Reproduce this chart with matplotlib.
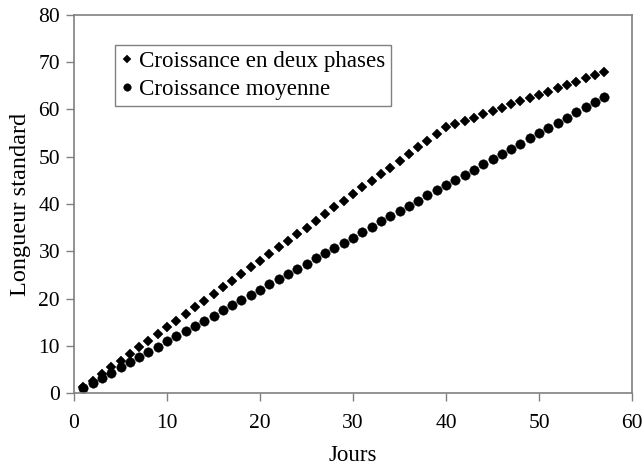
import matplotlib
matplotlib.use("Agg")
import matplotlib.pyplot as plt

plt.rcParams['font.family'] = ['Liberation Serif', 'DejaVu Serif']

days = list(range(1, 58))
deux_phases = [1.2, 2.6, 4.0, 5.4, 6.8, 8.3, 9.7, 11.1, 12.5, 13.9, 15.3, 16.7, 18.1, 19.5,
               20.9, 22.4, 23.8, 25.2, 26.6, 28.0, 29.4, 30.8, 32.2, 33.6, 35.0, 36.5, 37.9,
               39.3, 40.7, 42.1, 43.5, 44.9, 46.3, 47.7, 49.1, 50.6, 52.0, 53.4, 54.8, 56.2,
               56.9, 57.6, 58.3, 59.0, 59.7, 60.4, 61.1, 61.8, 62.4, 63.1, 63.8, 64.5, 65.2,
               65.9, 66.6, 67.3, 68.0]
moyenne = [1.0, 2.1, 3.2, 4.3, 5.4, 6.5, 7.6, 8.7, 9.8, 10.9, 12.0, 13.1, 14.2, 15.3, 16.4,
           17.5, 18.6, 19.7, 20.8, 21.9, 23.0, 24.1, 25.2, 26.3, 27.4, 28.5, 29.6, 30.7, 31.8,
           32.9, 34.0, 35.1, 36.3, 37.4, 38.5, 39.6, 40.7, 41.8, 42.9, 44.0, 45.1, 46.2, 47.3,
           48.4, 49.5, 50.6, 51.7, 52.8, 53.9, 55.0, 56.1, 57.2, 58.3, 59.4, 60.5, 61.6, 62.7]
labels = ["Croissance en deux phases", "Croissance moyenne"]
xticks = [0, 10, 20, 30, 40, 50, 60]
yticks = [0, 10, 20, 30, 40, 50, 60, 70, 80]

fig = plt.figure(figsize=(6.43, 4.66), dpi=100)
ax = fig.add_axes([74/643, 1-393/466, (632-74)/643, (393-15)/466])

ax.plot(days, deux_phases, linestyle='none', marker='D', markersize=5.4,
        markeredgewidth=0.3, color='black', label=labels[0], clip_on=False)
ax.plot(days, moyenne, linestyle='none', marker='o', markersize=6.8,
        markeredgewidth=0.3, color='black', label=labels[1], clip_on=False)

ax.set_xlim(0, 60)
ax.set_ylim(0, 80)
ax.set_xticks(xticks)
ax.set_yticks(yticks)

for sp in ax.spines.values():
    sp.set_color('#808080')
    sp.set_linewidth(1.2)
ax.tick_params(direction='out', length=6, width=1.0, color='#808080',
               labelsize=15.5, pad=4)
ax.tick_params(axis='x', pad=9)

ax.set_xlabel("Jours", fontsize=16.5, labelpad=9)
ax.set_ylabel("Longueur standard", fontsize=17.5, labelpad=5)

leg = ax.legend(loc='upper left', bbox_to_anchor=(115/643, 1-45/466),
                bbox_transform=fig.transFigure, fontsize=16.6, frameon=True,
                fancybox=False, edgecolor='#606060', handlelength=0.5,
                handletextpad=0.3, borderpad=0.25, labelspacing=0.3,
                borderaxespad=0, markerscale=0.8)
leg.get_frame().set_linewidth(1.0)

fig.savefig("out.png", dpi=100)
